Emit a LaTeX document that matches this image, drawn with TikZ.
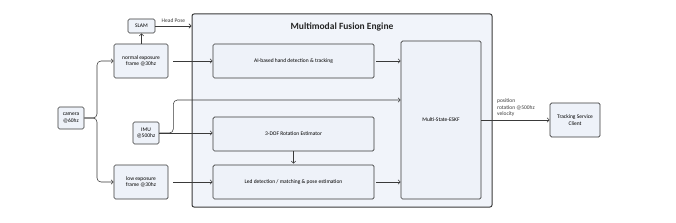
\documentclass[tikz,border=0pt]{standalone}
\usepackage{fontspec}
\setmainfont{Carlito}
\usetikzlibrary{arrows.meta}
\definecolor{boxfill}{HTML}{EEF2F9}
\definecolor{engfill}{HTML}{F1F4FA}
\definecolor{edge}{HTML}{3A3A3A}
\tikzset{
  blk/.style={draw=edge, fill=boxfill, rounded corners=1.5pt, line width=0.7pt, align=center, font=\fontsize{5.5}{6.6}\selectfont, inner sep=0pt},
  conn/.style={draw=edge, line width=0.55pt, -{Straight Barb[length=2.2pt,width=4.4pt]}},
  lbl/.style={font=\fontsize{5.5}{6.6}\selectfont, text=edge, inner sep=0pt}
}
\begin{document}
\begin{tikzpicture}[x=1pt,y=-1pt]
\useasboundingbox (0,0) rectangle (676,222);
% engine
\node[draw=edge, fill=engfill, rounded corners=2pt, line width=1pt, minimum width=300pt, minimum height=193pt, inner sep=0pt] (eng) at (342,110.5) {};
\node[font=\bfseries\fontsize{9.5}{11}\selectfont, text=black!85] (title) at (342,27) {Multimodal Fusion Engine};
% left
\node[blk, minimum width=26pt, minimum height=22pt] (cam) at (71,118) {camera\\@60hz};
\node[blk, minimum width=27pt, minimum height=14pt] (slam) at (141.5,26) {SLAM};
\node[blk, minimum width=54pt, minimum height=34pt] (norm) at (141,61) {normal exposure\\frame @30hz};
\node[blk, minimum width=26pt, minimum height=22pt] (imu) at (146,133) {IMU\\@500hz};
\node[blk, minimum width=54pt, minimum height=34pt] (low) at (141,182) {low exposure\\frame @30hz};
% inner
\node[blk, minimum width=161pt, minimum height=34pt] (ai) at (293.5,61) {AI-based hand detection \& tracking};
\node[blk, minimum width=161pt, minimum height=34pt] (dof) at (293.5,134) {3-DOF Rotation Estimator};
\node[blk, minimum width=161pt, minimum height=34pt] (led) at (293.5,182) {Led detection / matching \& pose estimation};
\node[blk, minimum width=80pt, minimum height=158pt] (eskf) at (441,120) {Multi-State-ESKF};
\node[blk, minimum width=50pt, minimum height=34pt] (tsc) at (575,120) {Tracking Service\\Client};
% connectors
\coordinate (fork) at (97,118);
\draw[conn, rounded corners=4pt] (cam.east) -- (fork) |- (norm.west);
\draw[conn, rounded corners=4pt] (cam.east) -- (fork) |- (low.west);
\draw[conn] (norm.north -| slam) -- (slam.south);
\draw[conn] (slam.east) -- (eng.west |- slam.east) node[lbl, midway, above=3pt] {Head Pose};
\draw[conn] ([xshift=5pt]norm.east) -- (ai.west);
\draw[conn] ([xshift=2pt]ai.east) -- (eskf.west |- ai.east);
\draw[conn, rounded corners=4pt] (imu.east) -- ++(14,0) |- ([yshift=20pt]eskf.west);
\draw[conn] (imu.east) -- (imu.east -| dof.west);
\draw[conn] (dof.south) -- ([yshift=1pt]led.north);
\draw[conn] ([xshift=5pt]low.east) -- (led.west);
\draw[conn] ([xshift=2pt]led.east) -- (eskf.west |- led.east);
\draw[conn] (eskf.east) -- (tsc.west);
\node[lbl, anchor=south west, align=left] (out) at (497,117) {position\\rotation @500hz\\velocity};
\end{tikzpicture}
\end{document}
